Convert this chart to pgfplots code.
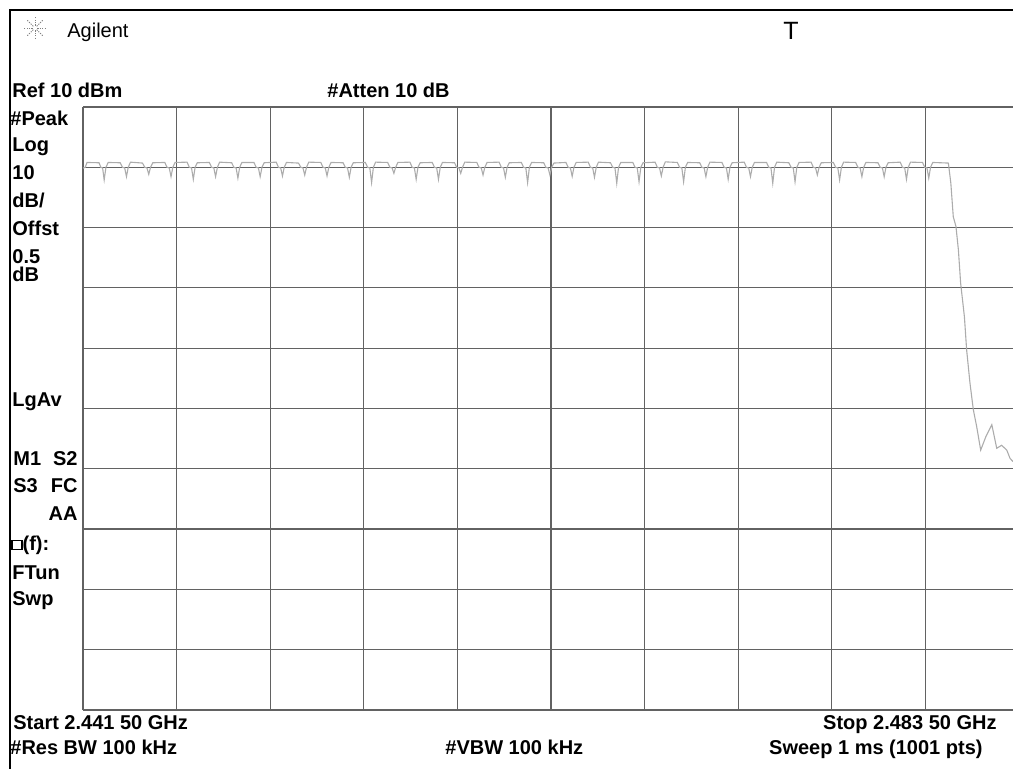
\documentclass[border=0pt]{standalone}
\usepackage{fontspec}
\setmainfont{Liberation Sans}
\usepackage{pgfplots}
\pgfplotsset{compat=1.18}
\usepackage{pgfplotstable}

\definecolor{tracec}{RGB}{172,172,172}
\definecolor{gridc}{RGB}{98,98,98}

% Swept trace: frequency in MHz, level in dBm
\pgfplotstableread[row sep=\\]{
f y\\
2441.50 -0.15\\ 2441.60 0.00\\ 2441.68 0.80\\ 2442.22 0.75\\ 2442.30 0.00\\ 2442.38 -0.10\\
2442.45 -2.10\\ 2442.53 0.00\\ 2442.63 0.80\\ 2443.17 0.75\\ 2443.27 0.00\\ 2443.37 -0.10\\
2443.45 -1.56\\ 2443.53 0.00\\ 2443.63 0.85\\ 2444.17 0.70\\ 2444.27 0.00\\ 2444.37 -0.10\\
2444.45 -1.16\\ 2444.53 0.00\\ 2444.63 0.75\\ 2445.17 0.80\\ 2445.27 0.00\\ 2445.37 -0.10\\
2445.45 -1.56\\ 2445.53 0.00\\ 2445.63 0.80\\ 2446.17 0.85\\ 2446.27 0.00\\ 2446.37 -0.10\\
2446.45 -2.00\\ 2446.53 0.00\\ 2446.63 0.75\\ 2447.17 0.80\\ 2447.27 0.00\\ 2447.37 -0.10\\
2447.45 -1.56\\ 2447.53 0.00\\ 2447.63 0.85\\ 2448.17 0.75\\ 2448.27 0.00\\ 2448.37 -0.10\\
2448.45 -1.80\\ 2448.53 0.00\\ 2448.63 0.80\\ 2449.17 0.80\\ 2449.27 0.00\\ 2449.37 -0.10\\
2449.45 -1.56\\ 2449.53 0.00\\ 2449.63 0.75\\ 2450.17 0.85\\ 2450.27 0.00\\ 2450.37 -0.10\\
2450.45 -1.44\\ 2450.53 0.00\\ 2450.63 0.80\\ 2451.17 0.70\\ 2451.27 0.00\\ 2451.37 -0.10\\
2451.45 -1.28\\ 2451.53 0.00\\ 2451.63 0.85\\ 2452.17 0.80\\ 2452.27 0.00\\ 2452.37 -0.10\\
2452.45 -1.44\\ 2452.53 0.00\\ 2452.63 0.80\\ 2453.17 0.75\\ 2453.27 0.00\\ 2453.37 -0.10\\
2453.45 -1.66\\ 2453.53 0.00\\ 2453.63 0.75\\ 2454.17 0.80\\ 2454.27 0.00\\ 2454.37 -0.10\\
2454.45 -2.55\\ 2454.53 0.00\\ 2454.63 0.85\\ 2455.17 0.80\\ 2455.27 0.00\\ 2455.37 -0.10\\
2455.45 -1.00\\ 2455.53 0.00\\ 2455.63 0.80\\ 2456.17 0.85\\ 2456.27 0.00\\ 2456.37 -0.10\\
2456.45 -2.00\\ 2456.53 0.00\\ 2456.63 0.75\\ 2457.17 0.80\\ 2457.27 0.00\\ 2457.37 -0.10\\
2457.45 -2.00\\ 2457.53 0.00\\ 2457.63 0.80\\ 2458.17 0.75\\ 2458.27 0.00\\ 2458.37 -0.10\\
2458.45 -1.00\\ 2458.53 0.00\\ 2458.63 0.85\\ 2459.17 0.80\\ 2459.27 0.00\\ 2459.37 -0.10\\
2459.45 -1.28\\ 2459.53 0.00\\ 2459.63 0.80\\ 2460.17 0.85\\ 2460.27 0.00\\ 2460.37 -0.10\\
2460.45 -1.66\\ 2460.53 0.00\\ 2460.63 0.75\\ 2461.17 0.80\\ 2461.27 0.00\\ 2461.37 -0.10\\
2461.45 -2.55\\ 2461.53 0.00\\ 2461.63 0.80\\ 2462.17 0.75\\ 2462.27 0.00\\ 2462.37 -0.10\\
2462.45 -1.28\\ 2462.53 0.00\\ 2462.63 0.70\\ 2463.17 0.80\\ 2463.27 0.00\\ 2463.37 -0.10\\
2463.45 -1.50\\ 2463.53 0.00\\ 2463.63 0.80\\ 2464.17 0.85\\ 2464.27 0.00\\ 2464.37 -0.10\\
2464.45 -1.66\\ 2464.53 0.00\\ 2464.63 0.85\\ 2465.17 0.75\\ 2465.27 0.00\\ 2465.37 -0.10\\
2465.45 -2.65\\ 2465.53 0.00\\ 2465.63 0.80\\ 2466.17 0.80\\ 2466.27 0.00\\ 2466.37 -0.10\\
2466.45 -2.40\\ 2466.53 0.00\\ 2466.63 0.75\\ 2467.17 0.85\\ 2467.27 0.00\\ 2467.37 -0.10\\
2467.45 -1.44\\ 2467.53 0.00\\ 2467.63 0.90\\ 2468.17 0.80\\ 2468.27 0.00\\ 2468.37 -0.10\\
2468.45 -2.40\\ 2468.53 0.00\\ 2468.63 0.80\\ 2469.17 0.75\\ 2469.27 0.00\\ 2469.37 -0.10\\
2469.45 -1.56\\ 2469.53 0.00\\ 2469.63 0.85\\ 2470.17 0.80\\ 2470.27 0.00\\ 2470.37 -0.10\\
2470.45 -2.00\\ 2470.53 0.00\\ 2470.63 0.75\\ 2471.17 0.85\\ 2471.27 0.00\\ 2471.37 -0.10\\
2471.45 -1.56\\ 2471.53 0.00\\ 2471.63 0.80\\ 2472.17 0.80\\ 2472.27 0.00\\ 2472.37 -0.10\\
2472.45 -2.65\\ 2472.53 0.00\\ 2472.63 0.85\\ 2473.17 0.75\\ 2473.27 0.00\\ 2473.37 -0.10\\
2473.45 -2.40\\ 2473.53 0.00\\ 2473.63 0.80\\ 2474.17 0.85\\ 2474.27 0.00\\ 2474.37 -0.10\\
2474.45 -1.28\\ 2474.53 0.00\\ 2474.63 0.75\\ 2475.17 0.80\\ 2475.27 0.00\\ 2475.37 -0.10\\
2475.45 -2.10\\ 2475.53 0.00\\ 2475.63 0.85\\ 2476.17 0.80\\ 2476.27 0.00\\ 2476.37 -0.10\\
2476.45 -1.56\\ 2476.53 0.00\\ 2476.63 0.80\\ 2477.17 0.75\\ 2477.27 0.00\\ 2477.37 -0.10\\
2477.45 -1.56\\ 2477.53 0.00\\ 2477.63 0.75\\ 2478.17 0.85\\ 2478.27 0.00\\ 2478.37 -0.10\\
2478.45 -2.00\\ 2478.53 0.00\\ 2478.63 0.85\\ 2479.17 0.80\\ 2479.27 0.00\\ 2479.37 -0.10\\
2479.45 -1.80\\ 2479.53 0.00\\ 2479.63 0.80\\ 2480.33 0.70\\
2480.44 -2.6\\ 2480.55 -8.2\\ 2480.67 -9.8\\ 2480.78 -13.7\\ 2480.88 -19.2\\ 2481.05 -24.8\\
2481.15 -30.3\\ 2481.30 -35.8\\ 2481.45 -40.2\\ 2481.60 -43.0\\ 2481.78 -46.9\\ 2482.02 -44.6\\
2482.28 -42.7\\ 2482.50 -46.6\\ 2482.72 -46.1\\ 2482.95 -46.9\\ 2483.10 -48.3\\ 2483.23 -48.8\\
}\sweep

\begin{document}
\begin{tikzpicture}[font=\fontsize{10pt}{12pt}\selectfont]
% outer frame of the screen
\draw[line width=1pt] (5pt,0pt) -- (5pt,379.5pt) -- (506.5pt,379.5pt);

% logo sparkle and title
\foreach \a in {0,45,...,315}
  \draw[gray, line width=0.45pt, dash pattern=on 0.6pt off 0.6pt] (17.5pt,370.5pt) ++(\a:1.2pt) -- ++(\a:4.3pt);
\node[anchor=base west, inner sep=0] at (33.5pt,365.5pt) {Agilent};
\node[anchor=base west, inner sep=0, font=\fontsize{12.5pt}{14pt}\selectfont] at (391.5pt,364.5pt) {T};

% display graticule: 4.2 MHz and 10 dB per division, cut at the screen edge
\begin{axis}[
  at={(41.5pt,29.5pt)}, anchor=south west,
  scale only axis, width=465pt, height=301.5pt,
  xmin=2441.5, xmax=2483.23, ymin=-90, ymax=10,
  xtick={2445.7,2449.9,2454.1,2458.3,2462.5,2466.7,2470.9,2475.1,2479.3},
  ytick={-80,-70,-60,-50,-40,-30,-20,-10,0},
  xticklabels={}, yticklabels={},
  major tick length=0pt,
  grid=major,
  major grid style={gridc, line width=0.6pt},
  axis x line*=box, axis y line*=left,
  axis line style={gridc, line width=1.1pt, -},
]
\addplot[tracec, line width=0.55pt] table[x=f, y=y] {\sweep};
\end{axis}

% annotations
\begin{scope}[every node/.style={inner sep=0, font=\fontsize{10pt}{12pt}\selectfont\bfseries}]
\node[anchor=base west] at (6pt,335.5pt) {Ref 10 dBm};
\node[anchor=base west] at (163.5pt,335.5pt) {\#Atten 10 dB};
\node[anchor=base west] at (5pt,321.5pt) {\#Peak};
\node[anchor=base west] at (6pt,308.5pt) {Log};
\node[anchor=base west] at (6pt,294.5pt) {10};
\node[anchor=base west] at (6pt,280.5pt) {dB/};
\node[anchor=base west] at (6pt,266.5pt) {Offst};
\node[anchor=base west] at (6pt,252.5pt) {0.5};
\node[anchor=base west] at (6pt,243.5pt) {dB};
\node[anchor=base west] at (6pt,181pt) {LgAv};
\node[anchor=base west] at (6.5pt,151.5pt) {M1};
\node[anchor=base east] at (39pt,151.5pt) {S2};
\node[anchor=base west] at (6.5pt,138pt) {S3};
\node[anchor=base east] at (39pt,138pt) {FC};
\node[anchor=base east] at (39pt,124pt) {AA};
\node[anchor=base west] at (5.5pt,109pt) {\raisebox{0.12em}{\setlength\fboxsep{0pt}\setlength\fboxrule{0.7pt}\fbox{\rule{0pt}{0.38em}\hspace{0.42em}}}(f):};
\node[anchor=base west] at (6pt,94.5pt) {FTun};
\node[anchor=base west] at (6pt,81.5pt) {Swp};
\node[anchor=base west] at (6.5pt,19.5pt) {Start 2.441 50 GHz};
\node[anchor=base east] at (498.5pt,19.5pt) {Stop 2.483 50 GHz};
\node[anchor=base west] at (5pt,7pt) {\#Res BW 100 kHz};
\node[anchor=base west] at (222.5pt,7pt) {\#VBW 100 kHz};
\node[anchor=base east] at (491.5pt,7pt) {Sweep 1 ms (1001 pts)};
\end{scope}

\pgfresetboundingbox
\path[use as bounding box] (0,0) rectangle (506.5pt,384.5pt);
\end{tikzpicture}
\end{document}
